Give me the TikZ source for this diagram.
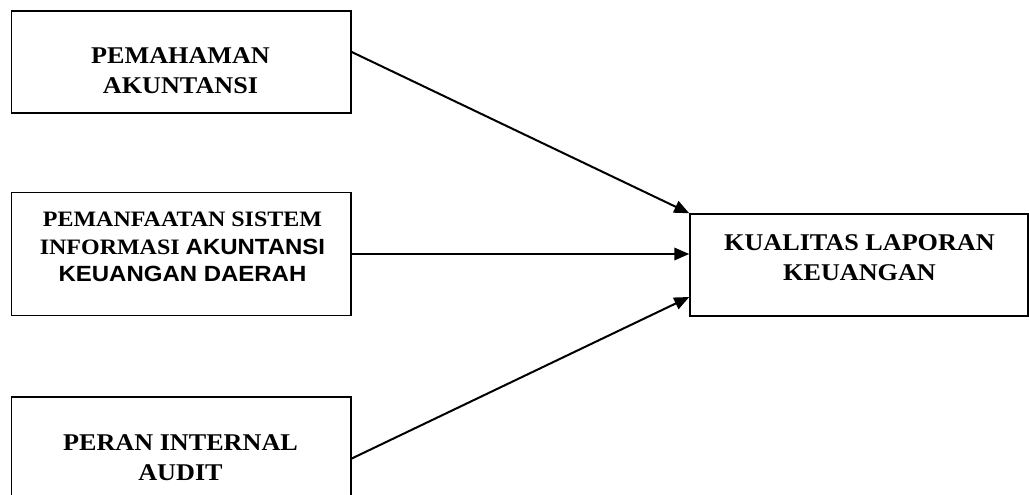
\documentclass[tikz,border=0pt]{standalone}
\usepackage{graphicx}
\usepackage{fontspec}
\setmainfont{Liberation Serif}
\newfontfamily\arialfont{Liberation Sans}
\usetikzlibrary{arrows.meta}
\newcommand\boxtext[3]{\scalebox{1.09}[1]{\fontsize{#1}{#2}\selectfont\bfseries\begin{tabular}[t]{@{}c@{}}#3\end{tabular}}}
\begin{document}
\begin{tikzpicture}[x=1pt,y=-1pt,
  varbox/.style={draw, line width=1.5pt, rectangle, inner sep=0pt, minimum width=339.3pt},
  lbl/.style={inner sep=0pt, anchor=base},
  conn/.style={line width=2pt, -{Triangle[length=15pt,width=12.5pt]}}]
\useasboundingbox (0,0) rectangle (1029,495);
\clip (0,0) rectangle (1029,495);
\fill[white] (0,0) rectangle (1029,495);
\node[varbox, minimum height=102pt] (b1) at (181.35,62) {};
\node[varbox, minimum height=123pt] (b2) at (181.35,254) {};
\node[varbox, minimum height=123pt] (b3) at (181.35,458.5) {};
\node[varbox, minimum height=102pt, minimum width=338pt] (b4) at (859,265) {};
\node[lbl] (t1) at (180.5,64) {\boxtext{24}{30}{PEMAHAMAN\\AKUNTANSI}};
\node[lbl] (t2) at (182.5,226.7) {\boxtext{22}{27.5}{PEMANFAATAN SISTEM\\INFORMASI {\arialfont AKUNTANSI}\\{\arialfont KEUANGAN DAERAH}}};
\node[lbl] (t3) at (180.5,450.5) {\boxtext{24}{30}{PERAN INTERNAL\\AUDIT}};
\node[lbl] (t4) at (859.5,250) {\boxtext{24}{30}{KUALITAS LAPORAN\\KEUANGAN}};
\draw[conn] ([yshift=10pt]b1.east) -- (b4.north west);
\draw[conn] (b2.east) -- (b2.east -| b4.west);
\draw[conn] (b3.east) -- ([yshift=-32pt]b4.west);
\end{tikzpicture}
\end{document}
